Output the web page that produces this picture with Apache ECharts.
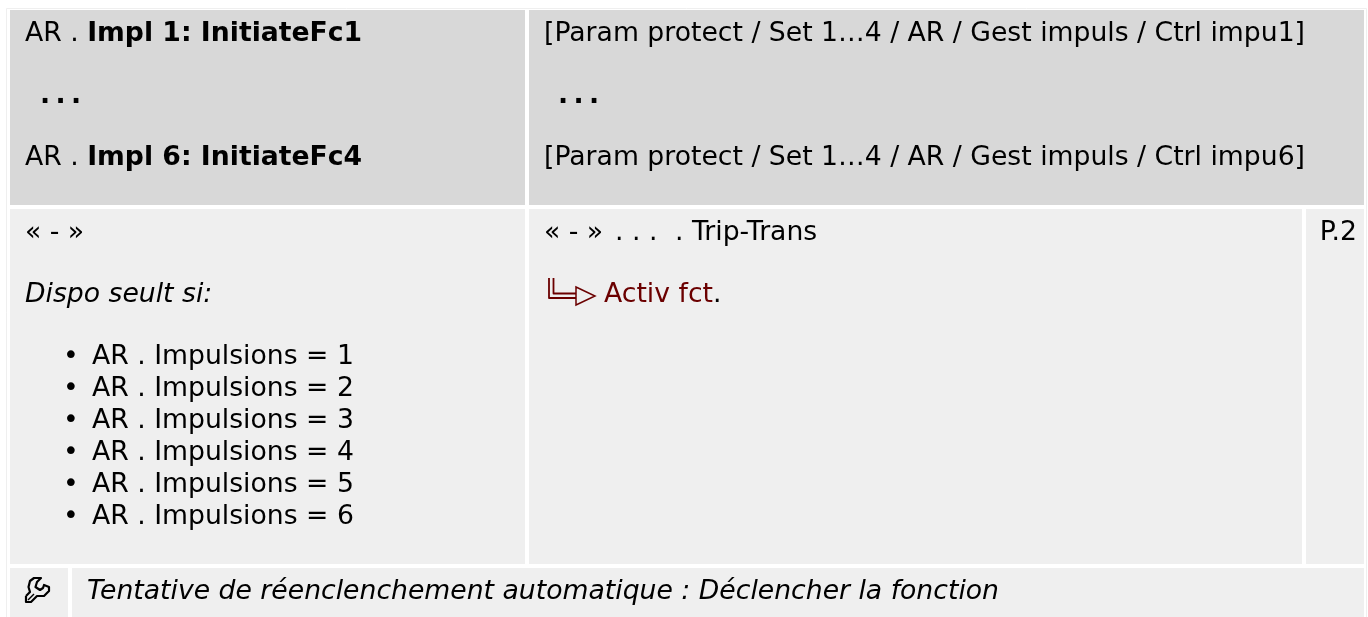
<!DOCTYPE html>
<html>
<head>
<meta charset="utf-8">
<title>AR Impl</title>
<style>
html,body{margin:0;padding:0;background:#fff;}
#main{width:1368px;height:617px;}
</style>
<script src="https://cdn.jsdelivr.net/npm/echarts@6/dist/echarts.min.js"></script>
</head>
<body>
<div id="main"></div>
<script>
// table texts
var headLeft = [['AR . ', 'Impl 1: InitiateFc1'], ['AR . ', 'Impl 6: InitiateFc4']];
var headRight = ['[Param protect / Set 1…4 / AR / Gest impuls / Ctrl impu1]', '[Param protect / Set 1…4 / AR / Gest impuls / Ctrl impu6]'];
var defaultLeft = '« - »';
var condition = 'Dispo seult si:';
var bullets = ['AR . Impulsions = 1', 'AR . Impulsions = 2', 'AR . Impulsions = 3', 'AR . Impulsions = 4', 'AR . Impulsions = 5', 'AR . Impulsions = 6'];
var defaultRight = ['« - »', '. . .', '. Trip-Trans'];
var linkText = 'Activ fct';
var pageRef = 'P.2';
var footer = 'Tentative de réenclenchement automatique : Déclencher la fonction';

var FONT = '"DejaVu Sans"';
var SIZE = 26.67;
var RED = '#6b0000';
var chart = echarts.init(document.getElementById('main'));
var els = [];

function cell(x, y, x2, y2, color) {
    els.push({type: 'rect', shape: {x: x, y: y, width: x2 - x, height: y2 - y}, style: {fill: color}, silent: true});
}
function line(points, color, width) {
    els.push({type: 'polyline', shape: {points: points}, style: {fill: 'none', stroke: color, lineWidth: width, lineJoin: 'round'}, silent: true});
}
function label(x, y, text, opt) {
    opt = opt || {};
    els.push({type: 'text', x: x, y: y, silent: true, style: {
        text: text, fill: opt.color || '#000', font: (opt.style || '') + ' ' + (opt.weight || '') + ' ' + SIZE + 'px ' + FONT,
        textVerticalAlign: 'middle', textAlign: opt.align || 'left'
    }});
}

// faint outer lines
line([[6.5, 617], [6.5, 8.5], [1366.5, 8.5], [1366.5, 617]], '#efefef', 1);

// header cells
cell(10, 10, 525, 205, '#d8d8d8');
cell(529, 10, 1364, 205, '#d8d8d8');
// body cells
cell(10, 209, 525, 564, '#efefef');
cell(529, 209, 1302, 564, '#efefef');
cell(1306, 209, 1364, 564, '#efefef');
// footer cells
cell(10, 568, 68, 617, '#efefef');
cell(72, 568, 1364, 617, '#efefef');

// header texts
[34, 158].forEach(function (y, i) {
    els.push({type: 'text', x: 25, y: y, silent: true, style: {
        text: '{a|' + headLeft[i][0] + '}{b|' + headLeft[i][1] + '}',
        textVerticalAlign: 'middle',
        rich: {
            a: {font: SIZE + 'px ' + FONT, fill: '#000'},
            b: {font: 'bold ' + SIZE + 'px ' + FONT, fill: '#000'}
        }
    }});
    label(544, y, headRight[i]);
});
// bold separators, dot by dot because of the tight spacing
[40, 558].forEach(function (x0) {
    [0, 15.5, 31].forEach(function (dx) {
        label(x0 + dx, 96, '.', {weight: 'bold'});
    });
});

// body left
label(25, 233, defaultLeft);
label(25, 295, condition, {style: 'italic'});
bullets.forEach(function (t, i) {
    label(63, 357 + i * 32, '•');
    label(92, 357 + i * 32, t);
});

// body right
label(544, 233, defaultRight[0]);
label(615, 233, defaultRight[1]);
label(675, 233, defaultRight[2]);
line([[549, 278], [549, 298], [576, 298]], RED, 1.8);
line([[553.5, 278], [553.5, 293.5], [576, 293.5]], RED, 1.8);
els.push({type: 'polygon', shape: {points: [[576, 287], [595, 296], [576, 305]]}, style: {fill: 'none', stroke: RED, lineWidth: 1.5}, silent: true});
label(604, 295, linkText, {color: RED});
label(713, 295, '.');

label(1357, 233, pageRef, {align: 'right'});

// wrench icon
line([[26, 596], [30, 592], [28.5, 587], [30, 581], [34, 578], [41, 578], [37, 582], [35.5, 587], [40, 590], [43, 588], [44, 585], [49, 587], [49, 591], [44, 596], [37, 596], [31, 602], [26, 602], [26, 596]], '#000', 2.2);
line([[28, 600], [34, 594]], '#000', 1.4);
label(87, 592, footer, {style: 'italic'});

chart.setOption({animation: false, graphic: {elements: els}});
</script>
</body>
</html>
